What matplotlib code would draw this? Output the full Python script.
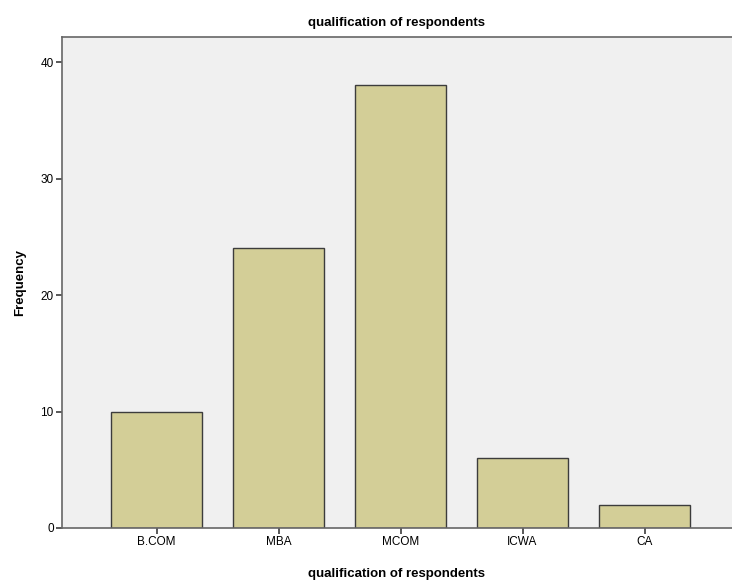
import numpy as np
import matplotlib.pyplot as plt

plt.rcParams['font.family'] = ['Liberation Sans', 'DejaVu Sans']

# Frequencies per qualification
categories = ['B.COM', 'MBA', 'MCOM', 'ICWA', 'CA']
frequency = [10, 24, 38, 6, 2]

fig = plt.figure(figsize=(7.32, 5.8), dpi=100)
ax = fig.add_axes([62 / 732, 52 / 580, 1 - 62 / 732, (528 - 37) / 580])
ax.set_facecolor('#F0F0F0')

x = np.arange(len(categories))
ax.bar(x, frequency, width=0.746, color='#D3CE97', edgecolor='#3c3c3c',
       linewidth=1.0, zorder=2)

ax.set_xlim(-0.775, 4.717)
ax.set_ylim(0, 42.15)
ax.set_yticks([0, 10, 20, 30, 40])
ax.set_xticks(x)
ax.set_xticklabels(categories)
ax.tick_params(axis='both', direction='out', length=4, width=1.2,
               color='#3c3c3c', labelsize=8.5, pad=2)

for side in ['left', 'top', 'bottom']:
    ax.spines[side].set_color('#666666')
    ax.spines[side].set_linewidth(1.2)
ax.spines['right'].set_visible(False)

ax.set_title('qualification of respondents', fontsize=9.5, fontweight='bold',
             pad=8, x=(396 - 62) / 670)
ax.set_ylabel('Frequency', fontsize=9.5, fontweight='bold')
ax.yaxis.set_label_coords(-0.054, 0.5)
ax.set_xlabel('qualification of respondents', fontsize=9.5, fontweight='bold')
ax.xaxis.set_label_coords((396 - 62) / 670, -0.081)

fig.savefig('out.png', dpi=100)
